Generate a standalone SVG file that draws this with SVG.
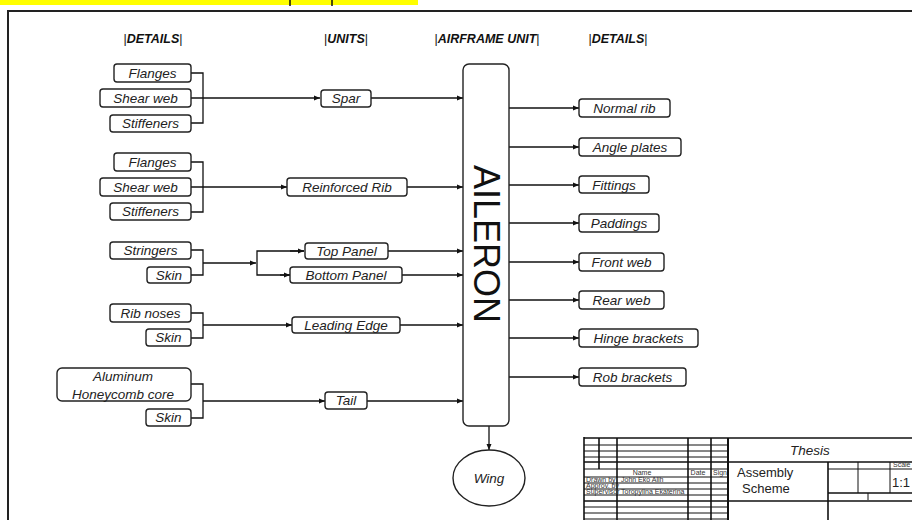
<svg xmlns="http://www.w3.org/2000/svg" width="912" height="520" viewBox="0 0 912 520">
<defs>
<marker id="ah" markerWidth="6" markerHeight="6" refX="6" refY="3" orient="auto" markerUnits="userSpaceOnUse">
<path d="M0,0.5 L6,3 L0,5.5 Z" fill="#111"/>
</marker>
<style>
.bx{fill:#fff;stroke:#222;stroke-width:1.4}
.t{font-family:"Liberation Sans",Arial,sans-serif;font-size:13.5px;font-style:italic;fill:#222;text-anchor:middle}
.h{font-family:"Liberation Sans",Arial,sans-serif;font-size:12.5px;font-style:italic;font-weight:bold;fill:#111;text-anchor:middle}
.bar{font-style:normal;font-weight:normal}
.c{fill:none;stroke:#111;stroke-width:1.3}
.tb{fill:none;stroke:#111;stroke-width:1.6}
.tt{stroke:#111;stroke-width:1}
.sm{font-family:"Liberation Sans",Arial,sans-serif;font-size:7px;fill:#333}
.sn{font-family:"Liberation Sans",Arial,sans-serif;fill:#222}
</style>
</defs>
<rect width="912" height="520" fill="#fff"/>
<rect x="0" y="0" width="418" height="5" fill="#ffff00"/>
<line x1="290" y1="0" x2="290" y2="6" stroke="#111" stroke-width="1.5"/>
<line x1="332" y1="0" x2="332" y2="6" stroke="#111" stroke-width="1.5"/>
<path d="M8,520 V11 H912" fill="none" stroke="#222" stroke-width="2"/>

<g id="headers">
<text class="h" x="153" y="43"><tspan class="bar">|</tspan>DETAILS<tspan class="bar">|</tspan></text>
<text class="h" x="346" y="43"><tspan class="bar">|</tspan>UNITS<tspan class="bar">|</tspan></text>
<text class="h" x="487" y="43"><tspan class="bar">|</tspan>AIRFRAME UNIT<tspan class="bar">|</tspan></text>
<text class="h" x="618" y="43"><tspan class="bar">|</tspan>DETAILS<tspan class="bar">|</tspan></text>
</g>

<g id="connectors">
<path class="c" d="M191,73 H203 V123 H191"/>
<path class="c" d="M191,98 H320" marker-end="url(#ah)"/>
<path class="c" d="M371,98 H463" marker-end="url(#ah)"/>
<path class="c" d="M191,162 H203 V212 H191"/>
<path class="c" d="M191,187 H287" marker-end="url(#ah)"/>
<path class="c" d="M407,187 H463" marker-end="url(#ah)"/>
<path class="c" d="M191,250 H203 V275 H191"/>
<path class="c" d="M203,263 H256" marker-end="url(#ah)"/>
<path class="c" d="M304,251 H257 V275 H290"/>
<path class="c" d="M290,251 H304" marker-end="url(#ah)"/>
<path class="c" d="M280,275 H290" marker-end="url(#ah)"/>
<path class="c" d="M388,251 H463" marker-end="url(#ah)"/>
<path class="c" d="M402,275 H463" marker-end="url(#ah)"/>
<path class="c" d="M191,313 H203 V338 H191"/>
<path class="c" d="M203,325 H292" marker-end="url(#ah)"/>
<path class="c" d="M400,325 H463" marker-end="url(#ah)"/>
<path class="c" d="M191,384 H203 V418 H191"/>
<path class="c" d="M203,401 H325" marker-end="url(#ah)"/>
<path class="c" d="M367,401 H463" marker-end="url(#ah)"/>
<path class="c" d="M509,108 H579" marker-end="url(#ah)"/>
<path class="c" d="M509,147 H579" marker-end="url(#ah)"/>
<path class="c" d="M509,185 H579" marker-end="url(#ah)"/>
<path class="c" d="M509,223 H579" marker-end="url(#ah)"/>
<path class="c" d="M509,262 H579" marker-end="url(#ah)"/>
<path class="c" d="M509,300 H579" marker-end="url(#ah)"/>
<path class="c" d="M509,338 H579" marker-end="url(#ah)"/>
<path class="c" d="M509,377 H579" marker-end="url(#ah)"/>
<path class="c" d="M489,426 V450" marker-end="url(#ah)"/>
</g>

<g id="n-flanges1"><rect class="bx" x="114" y="64" width="77" height="18" rx="3"/><text class="t" x="152.5" y="78">Flanges</text></g>
<g id="n-shearweb1"><rect class="bx" x="100" y="89" width="91" height="18" rx="3"/><text class="t" x="145.5" y="103">Shear web</text></g>
<g id="n-stiffeners1"><rect class="bx" x="110" y="115" width="81" height="17" rx="3"/><text class="t" x="150.5" y="128">Stiffeners</text></g>
<g id="n-spar"><rect class="bx" x="321" y="90" width="50" height="17" rx="3"/><text class="t" x="346" y="103">Spar</text></g>

<g id="n-flanges2"><rect class="bx" x="114" y="153" width="77" height="18" rx="3"/><text class="t" x="152.5" y="167">Flanges</text></g>
<g id="n-shearweb2"><rect class="bx" x="100" y="178" width="91" height="18" rx="3"/><text class="t" x="145.5" y="192">Shear web</text></g>
<g id="n-stiffeners2"><rect class="bx" x="110" y="203" width="81" height="17" rx="3"/><text class="t" x="150.5" y="216">Stiffeners</text></g>
<g id="n-rrib"><rect class="bx" x="287" y="178" width="120" height="18" rx="3"/><text class="t" x="347" y="192">Reinforced Rib</text></g>

<g id="n-stringers"><rect class="bx" x="110" y="242" width="81" height="17" rx="3"/><text class="t" x="150.5" y="255">Stringers</text></g>
<g id="n-skin1"><rect class="bx" x="147" y="267" width="44" height="16" rx="3"/><text class="t" x="169" y="280">Skin</text></g>
<g id="n-toppanel"><rect class="bx" x="305" y="243" width="83" height="16" rx="3"/><text class="t" x="346.5" y="256">Top Panel</text></g>
<g id="n-bottompanel"><rect class="bx" x="290" y="267" width="112" height="16" rx="3"/><text class="t" x="346" y="280">Bottom Panel</text></g>

<g id="n-ribnoses"><rect class="bx" x="110" y="304" width="81" height="18" rx="3"/><text class="t" x="150.5" y="318">Rib noses</text></g>
<g id="n-skin2"><rect class="bx" x="146" y="329" width="45" height="17" rx="3"/><text class="t" x="168.5" y="342">Skin</text></g>
<g id="n-leadingedge"><rect class="bx" x="292" y="317" width="108" height="16" rx="3"/><text class="t" x="346" y="330">Leading Edge</text></g>

<g id="n-honeycomb"><rect class="bx" x="57" y="368" width="134" height="33" rx="5"/><text class="t" x="123" y="381">Aluminum</text><text class="t" x="123" y="399">Honeycomb core</text></g>
<g id="n-skin3"><rect class="bx" x="146" y="409" width="45" height="17" rx="3"/><text class="t" x="168.5" y="422">Skin</text></g>
<g id="n-tail"><rect class="bx" x="325" y="392" width="42" height="17" rx="3"/><text class="t" x="346" y="405">Tail</text></g>

<g id="n-aileron"><rect class="bx" x="463" y="64" width="46" height="362" rx="6"/><text transform="translate(474,244) rotate(90)" x="0" y="0" font-family="'Liberation Sans',Arial,sans-serif" font-size="36" fill="#111" text-anchor="middle">AILERON</text></g>

<g id="n-normalrib"><rect class="bx" x="579" y="99" width="91" height="18" rx="3"/><text class="t" x="624.5" y="113">Normal rib</text></g>
<g id="n-angleplates"><rect class="bx" x="579" y="138" width="102" height="18" rx="3"/><text class="t" x="630" y="152">Angle plates</text></g>
<g id="n-fittings"><rect class="bx" x="579" y="176" width="70" height="17" rx="3"/><text class="t" x="614" y="190">Fittings</text></g>
<g id="n-paddings"><rect class="bx" x="579" y="214" width="80" height="18" rx="3"/><text class="t" x="619" y="228">Paddings</text></g>
<g id="n-frontweb"><rect class="bx" x="579" y="253" width="85" height="18" rx="3"/><text class="t" x="621.5" y="267">Front web</text></g>
<g id="n-rearweb"><rect class="bx" x="579" y="291" width="85" height="18" rx="3"/><text class="t" x="621.5" y="305">Rear web</text></g>
<g id="n-hinge"><rect class="bx" x="579" y="329" width="119" height="18" rx="3"/><text class="t" x="638.5" y="343">Hinge brackets</text></g>
<g id="n-rob"><rect class="bx" x="579" y="368" width="107" height="18" rx="3"/><text class="t" x="632.5" y="382">Rob brackets</text></g>

<g id="n-wing"><ellipse cx="489" cy="478" rx="36" ry="28" fill="#fff" stroke="#222" stroke-width="1.4"/><text class="t" x="489" y="483" font-size="15">Wing</text></g>

<g id="titleblock">
<g class="tt">
<line x1="584" y1="445" x2="728" y2="445"/>
<line x1="584" y1="451" x2="728" y2="451"/>
<line x1="584" y1="457" x2="728" y2="457"/>
<line x1="584" y1="469" x2="728" y2="469"/>
<line x1="584" y1="477" x2="728" y2="477"/>
<line x1="584" y1="483" x2="728" y2="483"/>
<line x1="584" y1="489" x2="728" y2="489"/>
<line x1="584" y1="495" x2="728" y2="495"/>
<line x1="584" y1="507" x2="728" y2="507"/>
<line x1="584" y1="513" x2="728" y2="513"/>
<line x1="584" y1="519" x2="728" y2="519"/>
<line x1="828" y1="469" x2="912" y2="469"/>
<line x1="858" y1="462" x2="858" y2="493"/>
<line x1="890" y1="462" x2="890" y2="493"/>
<line x1="868" y1="493" x2="868" y2="500"/>
</g>
<g class="tb">
<line x1="584" y1="438" x2="912" y2="438"/>
<line x1="584" y1="437" x2="584" y2="520"/>
<line x1="599" y1="438" x2="599" y2="469"/>
<line x1="617" y1="438" x2="617" y2="520"/>
<line x1="688" y1="438" x2="688" y2="520"/>
<line x1="711" y1="438" x2="711" y2="520"/>
<line x1="584" y1="462" x2="912" y2="462"/>
<line x1="584" y1="501" x2="912" y2="501"/>
<line x1="828" y1="493" x2="912" y2="493"/>
<line x1="828" y1="462" x2="828" y2="520"/>
</g>
<line x1="728" y1="438" x2="728" y2="520" stroke="#111" stroke-width="2"/>
<text class="sm" x="642" y="475" text-anchor="middle">Name</text>
<text class="sm" x="698" y="475" text-anchor="middle">Date</text>
<text class="sm" x="720" y="475" text-anchor="middle">Sign</text>
<text class="sm" x="586" y="482">Drawn by</text>
<text class="sm" x="621" y="482">John Eko Alih</text>
<text class="sm" x="586" y="488">Approv. by</text>
<text class="sm" x="586" y="494">Supervisor</text>
<text class="sm" x="621" y="494">Toropylina Ekaterina</text>
<text class="t" x="810" y="455" font-size="11.5">Thesis</text>
<text class="sn" x="737" y="477" font-size="13">Assembly</text>
<text class="sn" x="742" y="493" font-size="13">Scheme</text>
<text class="sm" x="893" y="467" font-size="5.5">Scale</text>
<text class="sn" x="892" y="487" font-size="13">1:1</text>
</g>
</svg>
